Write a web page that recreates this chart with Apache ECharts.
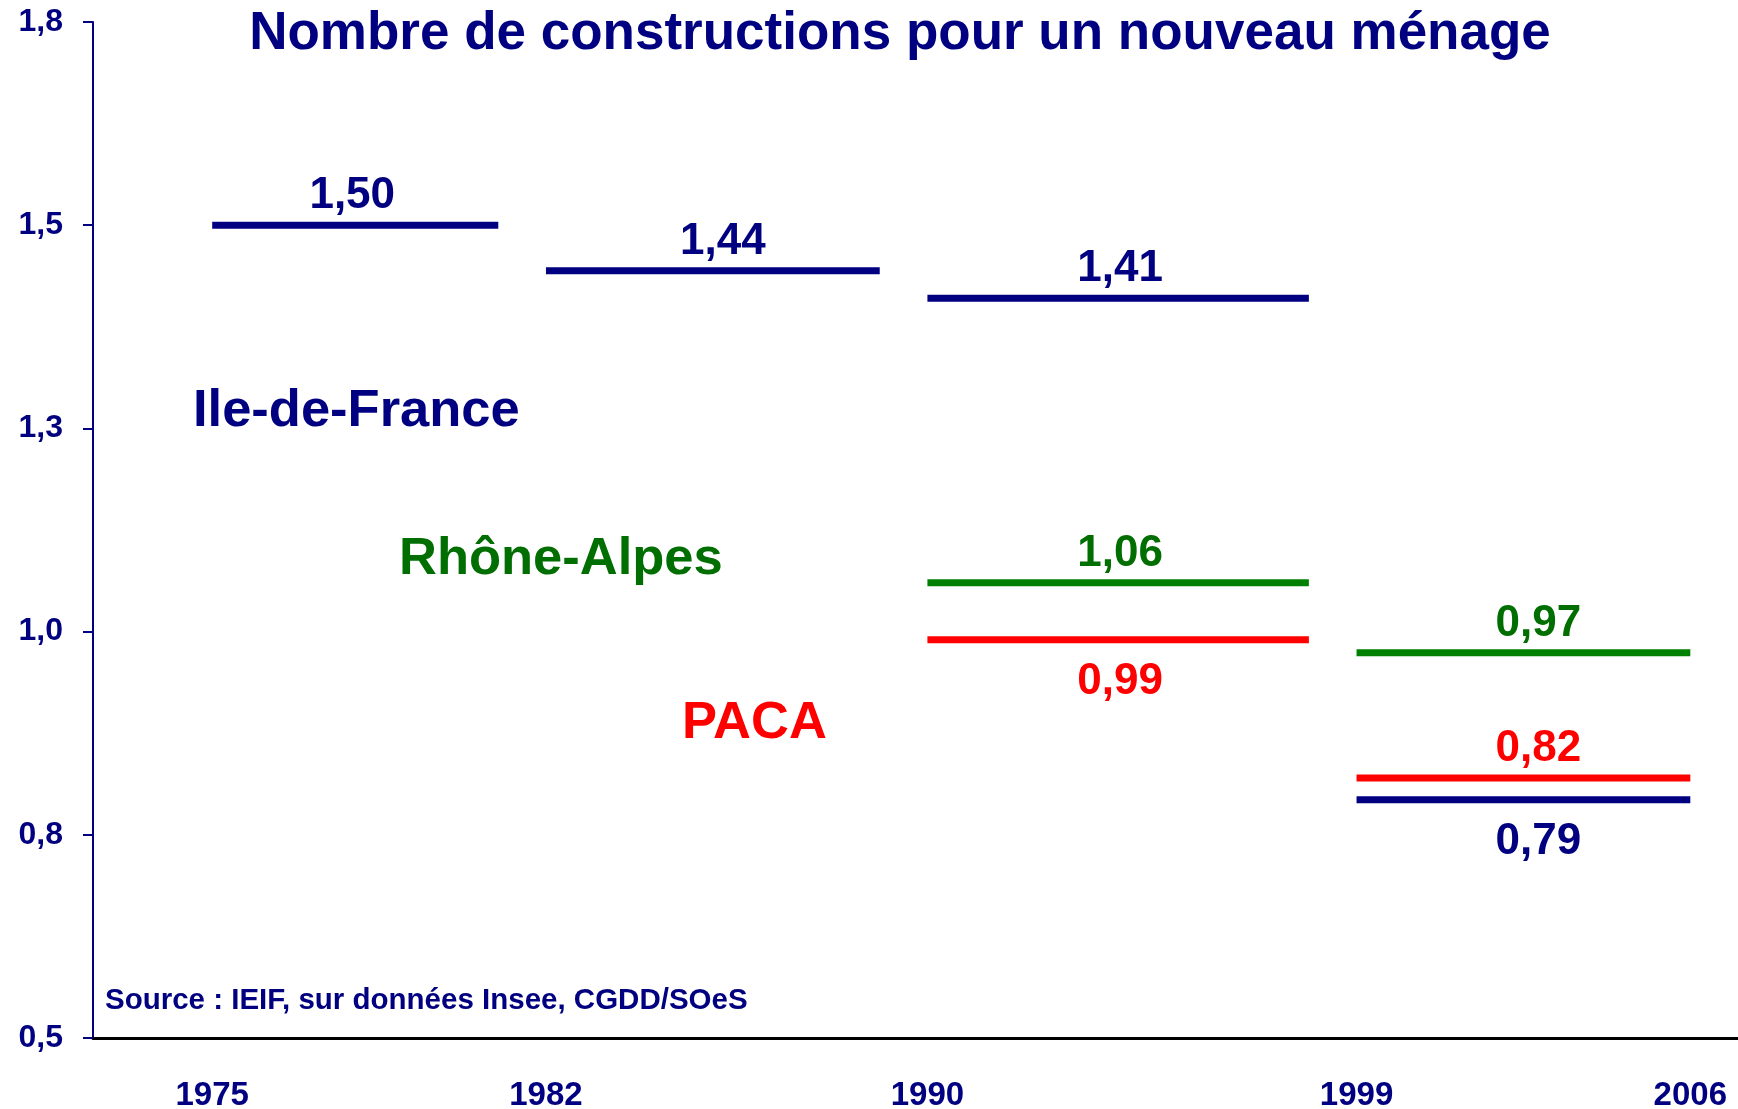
<!DOCTYPE html>
<html>
<head>
<meta charset="utf-8">
<title>Nombre de constructions pour un nouveau ménage</title>
<script src="https://cdn.jsdelivr.net/npm/echarts@6/dist/echarts.min.js"></script>
<style>
  html, body { margin: 0; padding: 0; background: #fff; }
  #chart { width: 1738px; height: 1109px; }
</style>
</head>
<body>
<div id="chart"></div>
<script>
// periodes (debut / fin de chaque segment)
var periodStart = [1975, 1982, 1990, 1999];
var periodEnd = [1981, 1989, 1998, 2006];
var yearTicks = [1975, 1982, 1990, 1999, 2006];

// nombre de constructions pour un nouveau menage
var ileDeFrance = [1.50, 1.444, 1.41, 0.793];
var rhoneAlpes = [null, null, 1.06, 0.974];
var paca = [null, null, 0.99, 0.82];

var FONT = '"Liberation Sans", Arial, sans-serif';
var NAVY = '#000080';
// petit decalage horizontal des etiquettes par periode (px)
var labelShift = [-3, 10, 2, 15];

function segmentData(values) {
    var out = [];
    for (var i = 0; i < values.length; i++) {
        if (values[i] == null) continue;
        out.push({ value: [periodStart[i], periodEnd[i], values[i]], idx: i });
    }
    return out;
}

function segmentSeries(name, values, lineColor, textColor, sides) {
    var data = segmentData(values);
    return {
        name: name,
        type: 'custom',
        encode: { x: [0, 1], y: 2 },
        data: data,
        renderItem: function (params, api) {
            var v = api.value(2);
            var p1 = api.coord([api.value(0), v]);
            var p2 = api.coord([api.value(1), v]);
            var i = data[params.dataIndex].idx;
            return {
                type: 'group',
                children: [
                    {
                        type: 'line',
                        shape: { x1: p1[0], y1: p1[1], x2: p2[0], y2: p2[1] },
                        style: { stroke: lineColor, lineWidth: 7 }
                    },
                    {
                        type: 'text',
                        style: {
                            text: v.toFixed(2).replace('.', ','),
                            x: (p1[0] + p2[0]) / 2 + labelShift[i],
                            y: p1[1] + (sides[i] === 'top' ? -29 : 42),
                            align: 'center',
                            verticalAlign: 'middle',
                            font: 'bold 44px ' + FONT,
                            fill: textColor
                        }
                    }
                ]
            };
        }
    };
}

var myChart = echarts.init(document.getElementById('chart'));

var option = {
    backgroundColor: '#ffffff',
    animation: false,
    grid: { left: 93, right: 0, top: 22, bottom: 71, outerBoundsMode: 'none' },
    xAxis: {
        type: 'value',
        min: 1972.5,
        max: 2007,
        splitLine: { show: false },
        axisTick: { show: false },
        axisLine: { onZero: false, lineStyle: { color: '#000000', width: 3 } },
        axisLabel: {
            customValues: yearTicks,
            margin: 41,
            color: NAVY,
            fontWeight: 'bold',
            fontSize: 33,
            fontFamily: FONT,
            formatter: function (v) { return String(v); }
        }
    },
    yAxis: {
        type: 'value',
        min: 0.5,
        max: 1.75,
        interval: 0.25,
        splitLine: { show: false },
        axisLine: { show: true, lineStyle: { color: NAVY, width: 2 } },
        axisTick: { show: true, length: 10, lineStyle: { color: NAVY, width: 2 } },
        axisLabel: {
            margin: 30,
            color: NAVY,
            fontWeight: 'bold',
            fontSize: 32,
            fontFamily: FONT,
            formatter: function (v) { return (v + 1e-9).toFixed(1).replace('.', ','); }
        }
    },
    graphic: [
        {
            type: 'text', x: 900, y: 34,
            style: { text: 'Nombre de constructions pour un nouveau ménage', align: 'center', verticalAlign: 'middle',
                     font: 'bold 53px ' + FONT, fill: NAVY }
        },
        {
            type: 'text', x: 193, y: 412,
            style: { text: 'Ile-de-France', align: 'left', verticalAlign: 'middle', font: 'bold 52.5px ' + FONT, fill: NAVY }
        },
        {
            type: 'text', x: 399, y: 560,
            style: { text: 'Rhône-Alpes', align: 'left', verticalAlign: 'middle', font: 'bold 52.5px ' + FONT, fill: '#006e00' }
        },
        {
            type: 'text', x: 682, y: 724,
            style: { text: 'PACA', align: 'left', verticalAlign: 'middle', font: 'bold 52.5px ' + FONT, fill: '#ff0000' }
        },
        {
            type: 'text', x: 105, y: 1001,
            style: { text: 'Source : IEIF, sur données Insee, CGDD/SOeS', align: 'left', verticalAlign: 'middle',
                     font: 'bold 29.5px ' + FONT, fill: NAVY }
        }
    ],
    series: [
        segmentSeries('Ile-de-France', ileDeFrance, NAVY, NAVY, ['top', 'top', 'top', 'bottom']),
        segmentSeries('Rhône-Alpes', rhoneAlpes, '#008000', '#006e00', ['top', 'top', 'top', 'top']),
        segmentSeries('PACA', paca, '#ff0000', '#ff0000', ['bottom', 'bottom', 'bottom', 'top'])
    ]
};

myChart.setOption(option);
</script>
</body>
</html>
